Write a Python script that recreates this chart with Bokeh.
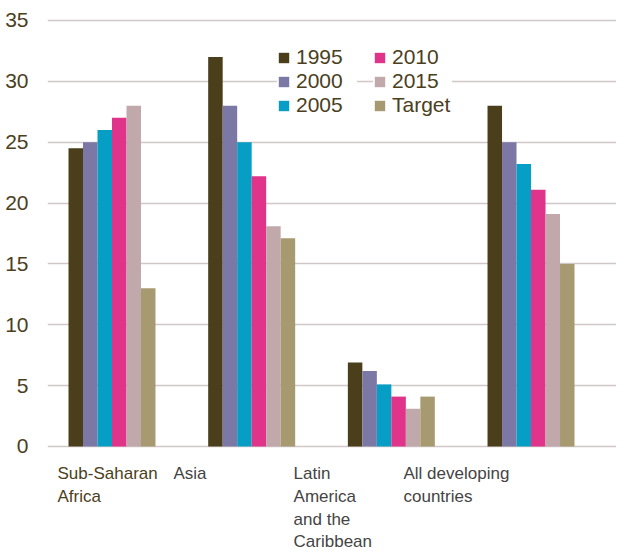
import numpy as np
from bokeh.plotting import figure
from bokeh.models import ColumnDataSource, Legend, LegendItem, FixedTicker, Range1d
from bokeh.core.properties import value
from bokeh.embed import file_html
from bokeh.resources import INLINE

# ---- data ----
regions = ["Sub-Saharan\nAfrica", "Asia", "Latin\nAmerica\nand the\nCaribbean", "All developing\ncountries"]
series = ["1995", "2000", "2005", "2010", "2015", "Target"]
v1995 = [24.5, 32.0, 6.9, 28.0]
v2000 = [25.0, 28.0, 6.2, 25.0]
v2005 = [26.0, 25.0, 5.1, 23.2]
v2010 = [27.0, 22.2, 4.1, 21.1]
v2015 = [28.0, 18.1, 3.1, 19.1]
vtarget = [13.0, 17.1, 4.1, 15.0]
y_ticks = [0, 5, 10, 15, 20, 25, 30, 35]

values = [v1995, v2000, v2005, v2010, v2015, vtarget]
colors = ["#4b3e1a", "#7b78a6", "#069ec4", "#e0338a", "#c0a8ab", "#a89a70"]
label_colors = ["#4b3e1a", "#444444", "#444444", "#444444"]
label_offsets = [-0.390, -0.560, -0.700, -0.913]

FONT = "Liberation Sans"
TXT = "#4a4020"

p = figure(width=616, height=550, output_backend="svg", toolbar_location=None,
           x_range=Range1d(-0.4618, 3.612), y_range=Range1d(-8.545, 36.643),
           x_axis_type=None, min_border_left=47, min_border_right=0,
           min_border_top=0, min_border_bottom=0)
p.outline_line_color = None
p.background_fill_color = "white"
p.border_fill_color = "white"

p.yaxis.ticker = FixedTicker(ticks=y_ticks)
p.yaxis.axis_line_color = None
p.yaxis.major_tick_line_color = None
p.yaxis.minor_tick_line_color = None
p.yaxis.major_label_standoff = 13
p.yaxis.major_label_text_font = FONT
p.yaxis.major_label_text_font_size = "21px"
p.yaxis.major_label_text_color = TXT
p.ygrid.ticker = FixedTicker(ticks=y_ticks)
p.ygrid.grid_line_color = "#d0c8c6"
p.ygrid.grid_line_width = 1.6

bw = 0.1038
idx = np.arange(len(regions))
renderers = []
for i, (name, vals, col) in enumerate(zip(series, values, colors)):
    src = ColumnDataSource(dict(x=idx + (i - 2.5) * bw, top=vals))
    r = p.vbar(x="x", top="top", width=bw, source=src, fill_color=col, line_color=None)
    renderers.append(r)

# category labels
lsrc = ColumnDataSource(dict(x=idx + np.array(label_offsets), y=[-1.47] * 4,
                             text=regions, color=label_colors))
p.text(x="x", y="y", text="text", source=lsrc, text_color="color",
       text_font=value(FONT), text_font_size="17px", text_align="left",
       text_baseline="top", text_line_height=1.19)

def make_legend(items, x, label_width):
    lg = Legend(items=items, location=(x, 433), orientation="vertical",
                background_fill_color="white", background_fill_alpha=1.0,
                border_line_color=None, margin=0, padding=8, spacing=0,
                glyph_width=13, glyph_height=13, label_standoff=6,
                label_width=label_width,
                label_text_font=FONT, label_text_font_size="21px",
                label_text_color=TXT)
    return lg

items1 = [LegendItem(label=series[k], renderers=[renderers[k]]) for k in range(3)]
items2 = [LegendItem(label=series[k], renderers=[renderers[k]]) for k in range(3, 6)]
p.add_layout(make_legend(items1, 230, 61), "center")
p.add_layout(make_legend(items2, 326, 60), "center")

open("out.html", "w").write(file_html(p, INLINE))
